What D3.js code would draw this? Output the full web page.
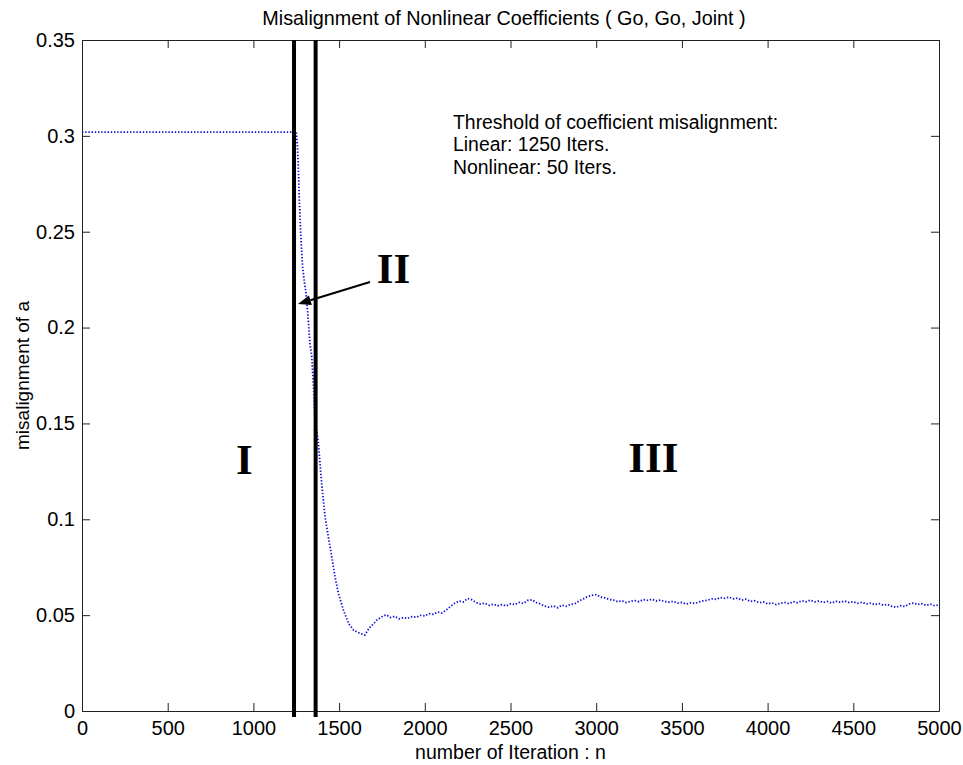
<!DOCTYPE html>
<html>
<head>
<meta charset="utf-8">
<script src="https://cdn.jsdelivr.net/npm/d3@7"></script>
<style>
  html, body { margin: 0; padding: 0; background: #fff; }
  svg { display: block; }
</style>
</head>
<body>
<svg id="chart" width="963" height="765"></svg>
<script>
// Iteration index of each sample
const iterations = [
  0, 1250, 1258, 1262, 1268, 1276, 1287, 1297, 1307, 1317, 1330, 1340, 1350, 1359,
  1379, 1398, 1418, 1437, 1457, 1476, 1496, 1525, 1555, 1584, 1600, 1622, 1635,
  1650, 1675, 1700, 1725, 1750, 1775, 1800, 1825, 1850, 1875, 1900, 1925, 1950, 1975,
  2000, 2025, 2050, 2075, 2100, 2125, 2150, 2175, 2200, 2225, 2250, 2275, 2300, 2325,
  2350, 2375, 2400, 2425, 2450, 2475, 2500, 2525, 2550, 2575, 2600, 2625, 2650, 2675,
  2700, 2725, 2750, 2775, 2800, 2825, 2850, 2875, 2900, 2925, 2950, 2975, 3000, 3025,
  3050, 3075, 3100, 3125, 3150, 3175, 3200, 3225, 3250, 3275, 3300, 3325, 3350, 3375,
  3400, 3425, 3450, 3475, 3500, 3525, 3550, 3575, 3600, 3625, 3650, 3675, 3700, 3725,
  3750, 3775, 3800, 3825, 3850, 3875, 3900, 3925, 3950, 3975, 4000, 4025, 4050, 4075,
  4100, 4125, 4150, 4175, 4200, 4225, 4250, 4275, 4300, 4325, 4350, 4375, 4400, 4425,
  4450, 4475, 4500, 4525, 4550, 4575, 4600, 4625, 4650, 4675, 4700, 4725, 4750, 4775,
  4800, 4825, 4850, 4875, 4900, 4925, 4950, 4975, 5000
];

// Misalignment of coefficient a at each iteration
const misalignment = [
  0.3019, 0.3019, 0.2926, 0.2840, 0.2665, 0.2490, 0.2318, 0.2240, 0.2179, 0.2074, 0.1918, 0.1850, 0.1710, 0.1535,
  0.1396, 0.1188, 0.1013, 0.0909, 0.0805, 0.0700, 0.0614, 0.0527, 0.0457, 0.0422, 0.0415, 0.0405, 0.0401,
  0.0396, 0.0432, 0.0455, 0.0478, 0.0492, 0.0502, 0.0488, 0.0494, 0.0481, 0.0487, 0.0483, 0.0492, 0.0489, 0.0499,
  0.0496, 0.0508, 0.0504, 0.0516, 0.0511, 0.0527, 0.0545, 0.0562, 0.0574, 0.0569, 0.0587, 0.0580, 0.0566, 0.0558,
  0.0562, 0.0551, 0.0557, 0.0549, 0.0555, 0.0548, 0.0559, 0.0555, 0.0566, 0.0561, 0.0577, 0.0580, 0.0566, 0.0558,
  0.0547, 0.0541, 0.0548, 0.0539, 0.0552, 0.0546, 0.0556, 0.0559, 0.0574, 0.0585, 0.0597, 0.0603, 0.0607, 0.0595,
  0.0590, 0.0582, 0.0579, 0.0570, 0.0575, 0.0566, 0.0572, 0.0576, 0.0570, 0.0581, 0.0577, 0.0583, 0.0574, 0.0579,
  0.0571, 0.0568, 0.0572, 0.0563, 0.0566, 0.0558, 0.0564, 0.0561, 0.0569, 0.0574, 0.0578, 0.0585, 0.0582, 0.0592,
  0.0588, 0.0594, 0.0585, 0.0589, 0.0578, 0.0583, 0.0571, 0.0575, 0.0565, 0.0569, 0.0559, 0.0564, 0.0555, 0.0562,
  0.0566, 0.0560, 0.0571, 0.0565, 0.0575, 0.0570, 0.0578, 0.0569, 0.0574, 0.0566, 0.0571, 0.0563, 0.0572, 0.0567,
  0.0574, 0.0566, 0.0570, 0.0562, 0.0567, 0.0558, 0.0563, 0.0555, 0.0560, 0.0552, 0.0556, 0.0546, 0.0541, 0.0549,
  0.0545, 0.0558, 0.0563, 0.0555, 0.0560, 0.0551, 0.0557, 0.0549, 0.0553
];

// Stage boundaries (iterations) drawn as heavy vertical rules
const stageBoundaries = [1237, 1363];

// Stage labels: text, iteration of centre, value at baseline
const stageLabels = ["I", "II", "III"];
const stageLabelX = [948, 1818, 3334];
const stageLabelY = [0.1236, 0.2235, 0.1245];

// Annotation text lines
const noteLines = [
  "Threshold of coefficient misalignment:",
  "Linear: 1250 Iters.",
  "Nonlinear: 50 Iters."
];

// Arrow from the "II" label to the transition curve (iteration, value)
const arrowFrom = [1680, 0.2238];
const arrowTo = [1260, 0.2123];

const xTicks = [0, 500, 1000, 1500, 2000, 2500, 3000, 3500, 4000, 4500, 5000];
const yTicks = [0, 0.05, 0.1, 0.15, 0.2, 0.25, 0.3, 0.35];

const margin = { left: 82, top: 40, right: 24, bottom: 54 };
const W = 963, H = 765;
const pw = W - margin.left - margin.right;   // 857
const ph = H - margin.top - margin.bottom;   // 671

const sans = "Arial, 'Liberation Sans', Helvetica, sans-serif";
const serif = "'Times New Roman', 'Liberation Serif', serif";
const tickFont = 20;
const axisColor = "#222";

const svg = d3.select("#chart");
const g = svg.append("g").attr("transform", `translate(${margin.left},${margin.top})`);

const x = d3.scaleLinear().domain([0, 5000]).range([0, pw]);
const y = d3.scaleLinear().domain([0, 0.35]).range([ph, 0]);

// Axes: ticks point inward, box closed on all four sides
const xAxisB = d3.axisBottom(x).tickValues(xTicks).tickSizeInner(-8).tickSizeOuter(0).tickPadding(10).tickFormat(d3.format("d"));
const xAxisT = d3.axisTop(x).tickValues(xTicks).tickSizeInner(-8).tickSizeOuter(0).tickFormat("");
const yAxisL = d3.axisLeft(y).tickValues(yTicks).tickSizeInner(-8).tickSizeOuter(0).tickPadding(7).tickFormat(d => d === 0 ? "0" : String(+d.toFixed(2)));
const yAxisR = d3.axisRight(y).tickValues(yTicks).tickSizeInner(-8).tickSizeOuter(0).tickFormat("");

function styleAxis(sel) {
  sel.attr("font-family", null).attr("font-size", null);
  sel.select(".domain").attr("stroke", axisColor).attr("stroke-width", 1);
  sel.selectAll(".tick line").attr("stroke", axisColor).attr("stroke-width", 1);
  sel.selectAll(".tick text").style("font-size", tickFont + "px").style("font-family", sans).attr("fill", "#000");
}

g.append("g").attr("transform", `translate(0,${ph})`).call(xAxisB).call(styleAxis);
g.append("g").call(xAxisT).call(styleAxis);
g.append("g").call(yAxisL).call(styleAxis);
g.append("g").attr("transform", `translate(${pw},0)`).call(yAxisR).call(styleAxis);

// Misalignment curve, dotted blue
const series = iterations.map((n, i) => [n, misalignment[i]]);
const line = d3.line().x(d => x(d[0])).y(d => y(d[1]));
g.append("path")
  .datum(series)
  .attr("d", line)
  .attr("fill", "none")
  .attr("stroke", "#1212d8")
  .attr("stroke-width", 1.8)
  .attr("stroke-dasharray", "1.4,1.8");

// Stage boundary rules
g.selectAll("line.stage")
  .data(stageBoundaries)
  .enter().append("line")
  .attr("class", "stage")
  .attr("x1", d => x(d)).attr("x2", d => x(d))
  .attr("y1", y(0.35)).attr("y2", ph + 6)
  .attr("stroke", "#000")
  .attr("stroke-width", 4);

// Stage labels
g.selectAll("text.stage-label")
  .data(stageLabels)
  .enter().append("text")
  .attr("class", "stage-label")
  .attr("x", (d, i) => x(stageLabelX[i]))
  .attr("y", (d, i) => y(stageLabelY[i]))
  .attr("text-anchor", "middle")
  .style("font-family", serif)
  .style("font-weight", "bold")
  .style("font-size", "43px")
  .attr("fill", "#000")
  .text(d => d);

// Arrow pointing at the transition segment
const ax0 = x(arrowFrom[0]), ay0 = y(arrowFrom[1]);
const ax1 = x(arrowTo[0]), ay1 = y(arrowTo[1]);
const ang = Math.atan2(ay1 - ay0, ax1 - ax0);
const headLen = 13, headHalf = 5;
const bx = ax1 - headLen * Math.cos(ang), by = ay1 - headLen * Math.sin(ang);
g.append("line")
  .attr("x1", ax0).attr("y1", ay0).attr("x2", bx).attr("y2", by)
  .attr("stroke", "#000").attr("stroke-width", 2);
g.append("path")
  .attr("d", `M${ax1},${ay1} L${bx - headHalf * Math.sin(ang)},${by + headHalf * Math.cos(ang)} L${bx + headHalf * Math.sin(ang)},${by - headHalf * Math.cos(ang)} Z`)
  .attr("fill", "#000");

// Threshold note
const note = svg.append("text")
  .attr("x", 453)
  .attr("y", 128.5)
  .style("font-family", sans)
  .style("font-size", "19.4px")
  .attr("fill", "#000");
noteLines.forEach((t, i) => {
  note.append("tspan").attr("x", 453).attr("dy", i === 0 ? 0 : 22.5).text(t);
});

// Title and axis labels
svg.append("text")
  .attr("x", 504).attr("y", 25)
  .attr("text-anchor", "middle")
  .style("font-family", sans)
  .style("font-size", "19.8px")
  .attr("fill", "#000")
  .text("Misalignment of Nonlinear Coefficients ( Go, Go, Joint )");

svg.append("text")
  .attr("x", margin.left + pw / 2).attr("y", 759)
  .attr("text-anchor", "middle")
  .style("font-family", sans)
  .style("font-size", "19.5px")
  .attr("fill", "#000")
  .text("number of Iteration : n");

svg.append("text")
  .attr("transform", `translate(29,${margin.top + ph / 2}) rotate(-90)`)
  .attr("text-anchor", "middle")
  .style("font-family", sans)
  .style("font-size", "19px")
  .attr("fill", "#000")
  .text("misalignment of a");
</script>
</body>
</html>
